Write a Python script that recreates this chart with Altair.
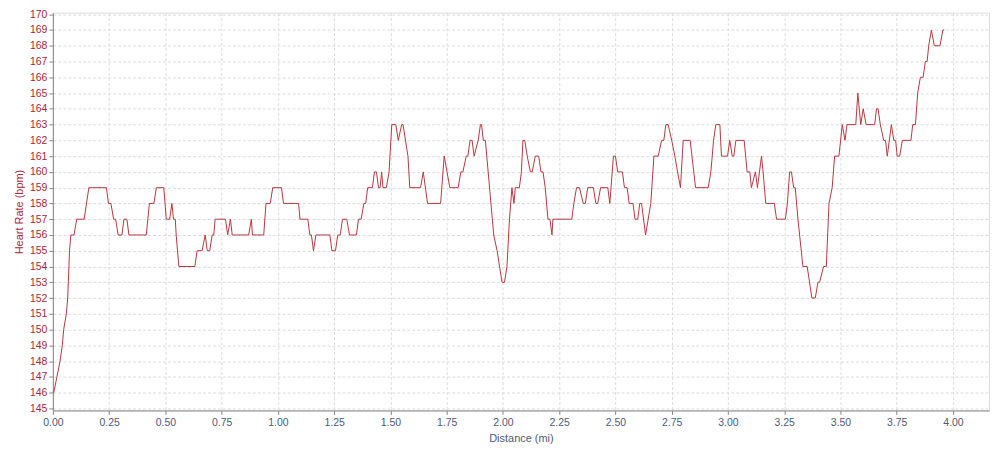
import altair as alt
import pandas as pd

distance_mi = [
    0.004, 0.018, 0.032, 0.042, 0.048, 0.060, 0.066, 0.074, 0.080, 0.094, 0.106,
    0.139, 0.160, 0.238, 0.247, 0.258, 0.270, 0.279, 0.290, 0.307, 0.316, 0.329,
    0.338, 0.415, 0.429, 0.449, 0.460, 0.493, 0.504, 0.519, 0.529, 0.536, 0.544,
    0.548, 0.560, 0.631, 0.641, 0.663, 0.677, 0.686, 0.697, 0.708, 0.715, 0.721,
    0.767, 0.777, 0.789, 0.797, 0.870, 0.882, 0.887, 0.937, 0.947, 0.966, 0.977,
    1.016, 1.025, 1.092, 1.098, 1.133, 1.142, 1.149, 1.158, 1.169, 1.231, 1.240,
    1.256, 1.266, 1.277, 1.287, 1.306, 1.318, 1.349, 1.358, 1.370, 1.382, 1.390,
    1.399, 1.420, 1.429, 1.438, 1.447, 1.454, 1.461, 1.467, 1.482, 1.494, 1.498,
    1.506, 1.524, 1.535, 1.550, 1.556, 1.578, 1.586, 1.634, 1.646, 1.665, 1.723,
    1.739, 1.764, 1.801, 1.813, 1.822, 1.837, 1.844, 1.854, 1.863, 1.872, 1.890,
    1.900, 1.905, 1.913, 1.922, 1.959, 1.974, 1.996, 2.007, 2.018, 2.029, 2.040,
    2.049, 2.055, 2.073, 2.082, 2.089, 2.097, 2.108, 2.122, 2.130, 2.144, 2.159,
    2.169, 2.178, 2.188, 2.200, 2.209, 2.218, 2.222, 2.306, 2.315, 2.327, 2.340,
    2.357, 2.366, 2.377, 2.402, 2.413, 2.421, 2.434, 2.466, 2.475, 2.491, 2.500,
    2.510, 2.531, 2.540, 2.552, 2.561, 2.578, 2.587, 2.599, 2.608, 2.616, 2.634,
    2.657, 2.671, 2.690, 2.705, 2.715, 2.724, 2.734, 2.750, 2.764, 2.776, 2.789,
    2.801, 2.832, 2.856, 2.912, 2.924, 2.936, 2.946, 2.964, 2.971, 2.998, 3.008,
    3.019, 3.026, 3.035, 3.072, 3.085, 3.097, 3.104, 3.122, 3.131, 3.149, 3.156,
    3.168, 3.206, 3.216, 3.255, 3.264, 3.274, 3.282, 3.292, 3.299, 3.311, 3.333,
    3.352, 3.373, 3.388, 3.400, 3.407, 3.425, 3.437, 3.449, 3.463, 3.474, 3.493,
    3.508, 3.520, 3.529, 3.568, 3.577, 3.590, 3.601, 3.614, 3.652, 3.660, 3.667,
    3.677, 3.692, 3.700, 3.708, 3.726, 3.737, 3.745, 3.752, 3.763, 3.775, 3.813,
    3.821, 3.833, 3.843, 3.855, 3.867, 3.877, 3.885, 3.892, 3.904, 3.917, 3.942,
    3.955, 3.961,
]

heart_rate_bpm = [
    146, 147, 148, 149, 150, 151, 152, 155, 156, 156, 157,
    157, 159, 159, 158, 158, 157, 157, 156, 156, 157, 157,
    156, 156, 158, 158, 159, 159, 157, 157, 158, 157, 157,
    156, 154, 154, 155, 155, 156, 155, 155, 156, 156, 157,
    157, 156, 157, 156, 156, 157, 156, 156, 158, 158, 159,
    159, 158, 158, 157, 157, 156, 156, 155, 156, 156, 155,
    155, 156, 156, 157, 157, 156, 156, 157, 157, 158, 158,
    159, 159, 160, 160, 159, 159, 160, 159, 159, 160, 161,
    163, 163, 162, 163, 163, 161, 159, 159, 160, 158, 158,
    161, 159, 159, 160, 160, 161, 161, 162, 162, 161, 162,
    163, 163, 162, 162, 156, 155, 153, 153, 154, 157, 159,
    158, 159, 159, 160, 162, 162, 161, 160, 160, 161, 161,
    160, 160, 159, 157, 157, 156, 157, 157, 158, 159, 159,
    158, 158, 159, 159, 158, 158, 159, 159, 158, 161, 161,
    160, 160, 159, 159, 158, 158, 157, 157, 158, 158, 156,
    158, 161, 161, 162, 162, 163, 163, 162, 161, 160, 159,
    162, 162, 159, 159, 160, 162, 163, 163, 161, 161, 162,
    161, 161, 162, 162, 160, 160, 159, 160, 159, 161, 160,
    158, 158, 157, 157, 158, 160, 160, 159, 159, 157, 154,
    154, 152, 152, 153, 153, 154, 154, 158, 159, 161, 161,
    163, 162, 163, 163, 165, 163, 164, 163, 163, 164, 164,
    163, 162, 162, 161, 163, 162, 162, 161, 161, 162, 162,
    163, 163, 165, 166, 166, 167, 167, 168, 169, 168, 168,
    169, 169,
]

x_ticks = [0.0, 0.25, 0.5, 0.75, 1.0, 1.25, 1.5, 1.75, 2.0, 2.25, 2.5, 2.75,
           3.0, 3.25, 3.5, 3.75, 4.0]
y_ticks = list(range(145, 171))

df = pd.DataFrame({"dist": distance_mi, "hr": heart_rate_bpm})

FONT = "Liberation Sans"
RED = "#a8283c"
BLUE = "#4d5a78"

chart = (
    alt.Chart(df)
    .mark_line(color="#b8383e", strokeWidth=1, clip=True)
    .encode(
        x=alt.X(
            "dist:Q",
            title="Distance (mi)",
            scale=alt.Scale(domain=[0, 4.16], nice=False, zero=False),
            axis=alt.Axis(
                values=x_ticks,
                format=".2f",
                labelColor=BLUE,
                titleColor=BLUE,
                labelFont=FONT,
                titleFont=FONT,
                labelFontSize=10.5,
                titleFontSize=11,
                titleFontWeight="normal",
                labelPadding=3,
                titlePadding=5,
                tickSize=4,
                domainColor="#888888",
                tickColor="#888888",
                gridColor="#dcdcdc",
                gridDash=[3, 2],
                labelFlush=False,
            ),
        ),
        y=alt.Y(
            "hr:Q",
            title="Heart Rate (bpm)",
            scale=alt.Scale(domain=[144.87, 170.1], nice=False, zero=False),
            axis=alt.Axis(
                values=y_ticks,
                format="d",
                labelColor=RED,
                titleColor=RED,
                labelFont=FONT,
                titleFont=FONT,
                labelFontSize=10.5,
                titleFontSize=11,
                titleFontWeight="normal",
                labelPadding=2,
                titlePadding=5,
                tickSize=4,
                domainColor="#888888",
                tickColor="#888888",
                gridColor="#dcdcdc",
                gridDash=[3, 2],
                labelFlush=False,
            ),
        ),
    )
    .properties(
        width=939,
        height=399,
        autosize=alt.AutoSizeParams(type="none"),
        padding={"left": 45, "top": 4, "right": 3, "bottom": 38},
    )
    .configure_view(stroke="#aaaaaa", strokeWidth=1)
    .configure(background="white")
)

chart.save("out.html", embed_options={"renderer": "svg", "actions": False})
